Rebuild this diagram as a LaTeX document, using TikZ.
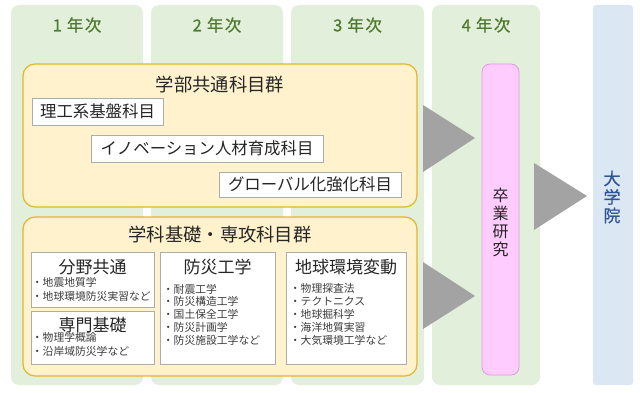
\documentclass[tikz,border=0pt]{standalone}
\usepackage{fontspec}
\setmainfont{Noto Sans CJK JP}
\newfontfamily\yearfont[FakeBold=0.7]{Noto Sans CJK JP}
\usetikzlibrary{positioning, calc}
\definecolor{colgreen}{HTML}{E2EFDA}
\definecolor{yeartext}{HTML}{4E7A2E}
\definecolor{colblue}{HTML}{DCE7F4}
\definecolor{gradtext}{HTML}{2F5597}
\definecolor{groupfill}{HTML}{FFF2CC}
\definecolor{groupline}{HTML}{E3B52A}
\definecolor{thesisfill}{HTML}{FFCCFF}
\definecolor{thesisline}{HTML}{DE9ADE}
\definecolor{arrowgray}{HTML}{A3A3A3}
\definecolor{itemtext}{HTML}{3C3C3C}

\begin{document}
\begin{tikzpicture}[
  x=1pt, y=-1pt,
  % column and box styles
  yearcol/.style={fill=colgreen, rounded corners=8pt},
  yearlabel/.style={text=yeartext, font=\yearfont\fontsize{16.5}{18}\selectfont},
  group/.style={draw=groupline, fill=groupfill, line width=1.2pt, rounded corners=12pt},
  grouptitle/.style={font=\fontsize{18.3}{20}\selectfont, text=black!85},
  subject/.style={draw=gray!65, fill=white, line width=0.6pt, inner sep=0pt,
    font=\fontsize{16.4}{18}\selectfont, text=black!85},
  field/.style={draw=gray!65, fill=white, line width=0.6pt, inner sep=0pt},
  fieldtitle/.style={font=\fontsize{17}{19}\selectfont, text=black!85},
  items/.style={font=\fontsize{10.8}{12.8}\selectfont, text=itemtext, align=left, inner sep=0pt},
  arrowtri/.style={fill=arrowgray}
]
\useasboundingbox (0,0) rectangle (640,393);

% Year columns
\foreach \xl/\xr/\yr in {11/143/1, 151/283/2, 291/424/3, 432/540/4}{
  \fill[yearcol] (\xl,5) rectangle (\xr,385);
  \node[yearlabel] (year\yr) at ({(\xl+\xr)/2},25) {\yr\hspace{5pt}年\hspace{1.5pt}次};
}
\fill[colblue, rounded corners=3pt] (593,5) rectangle (633,385);

% Common faculty subjects
\node[group, minimum width=394pt, minimum height=143pt] (common) at (220,135.5) {};
\node[grouptitle] (commontitle) at (220,85) {学部共通科目群};
\node[subject, minimum width=131pt, minimum height=27pt] (kiban) at (97.5,111.5) {理工系基盤科目};
\node[subject, minimum width=232pt, minimum height=27pt] (innov) at (207,148.5) {イノベーション人材育成科目};
\node[subject, minimum width=182pt, minimum height=25pt] (global) at (310,184.5) {グローバル化強化科目};

% Department subjects
\node[group, minimum width=394pt, minimum height=159pt] (dept) at (220,296.5) {};
\node[grouptitle] (depttitle) at (220,235) {学科基礎・専攻科目群};

\node[field, minimum width=123pt, minimum height=55pt] (bunya) at (92.5,279.5) {};
\node[fieldtitle] (bunyatitle) at ($(bunya.north)+(0,15)$) {分野共通};
\node[items, anchor=north west, font=\fontsize{10.8}{14}\selectfont] (bunyaitems)
  at ($(bunya.north west)+(1,25)$) {・地震地質学\\・地球環境防災実習など};

\node[field, minimum width=123pt, minimum height=53pt] (senmon) at (92.5,337.5) {};
\node[fieldtitle] (senmontitle) at ($(senmon.north)+(0,14)$) {専門基礎};
\node[items, anchor=north west, font=\fontsize{10.8}{14}\selectfont] (senmonitems)
  at ($(senmon.north west)+(1,21)$) {・物理学概論\\・沿岸域防災学など};

\node[field, minimum width=115pt, minimum height=112pt] (bosai) at (217.5,308) {};
\node[fieldtitle] (bosaititle) at ($(bosai.north)+(0,15)$) {防災工学};
\node[items, anchor=north west] (bosaiitems) at ($(bosai.north west)+(3,32)$)
  {・耐震工学\\・防災構造工学\\・国土保全工学\\・防災計画学\\・防災施設工学など};

\node[field, minimum width=120pt, minimum height=112pt] (chikyu) at (346,308) {};
\node[fieldtitle] (chikyutitle) at ($(chikyu.north)+(0,15)$) {地球環境変動};
\node[items, anchor=north west] (chikyuitems) at ($(chikyu.north west)+(4,32)$)
  {・物理探査法\\・テクトニクス\\・地球掘科学\\・海洋地質実習\\・大気環境工学など};

% Graduation research and graduate school
\node[draw=thesisline, fill=thesisfill, line width=0.8pt, rounded corners=8pt,
  minimum width=37pt, minimum height=311pt] (thesis) at (500.5,219.5) {};
\node[font=\fontsize{16}{18}\selectfont, align=center, text=black!85] (thesistext) at (500.5,222)
  {卒\\業\\研\\究};
\node[font=\yearfont\fontsize{17}{18.5}\selectfont, align=center, text=gradtext] (grad) at (612,197)
  {大\\学\\院};

% Arrows
\fill[arrowtri] (423,105) -- (475,138) -- (423,172) -- cycle;
\fill[arrowtri] (423,262) -- (475,296) -- (423,329) -- cycle;
\fill[arrowtri] (534,163) -- (587,196) -- (534,230) -- cycle;
\end{tikzpicture}
\end{document}
